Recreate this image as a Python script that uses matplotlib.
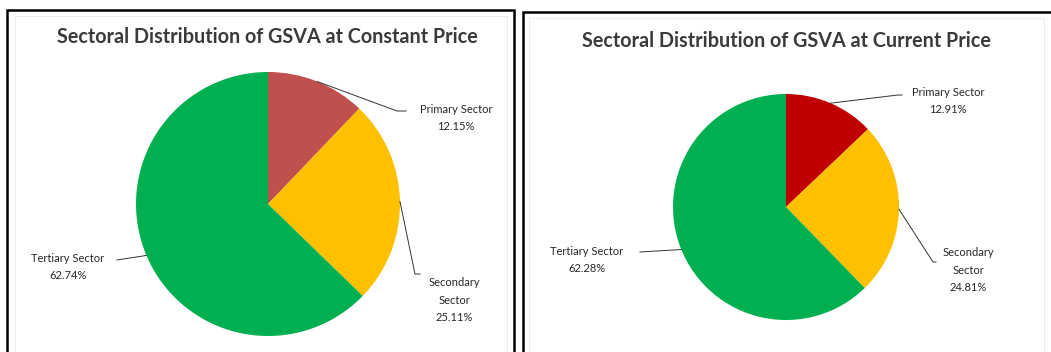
import numpy as np
import matplotlib.pyplot as plt
from matplotlib.patches import Rectangle

plt.rcParams['font.family'] = ['Lato', 'DejaVu Sans']

# GSVA shares (%) by sector
sectors = ["Primary Sector", "Secondary Sector", "Tertiary Sector"]
constant_share = [12.15, 25.11, 62.74]
current_share = [12.91, 24.81, 62.28]
constant_colors = ["#C0504D", "#FFC000", "#00B050"]
current_colors = ["#C00000", "#FFC000", "#00B050"]
label_names = ["Primary Sector", "Secondary\nSector", "Tertiary Sector"]

W, H = 1051, 352
fig = plt.figure(figsize=(W / 100, H / 100), dpi=100)
ax = fig.add_axes([0, 0, 1, 1])

# two chart panels, pixel coordinates with y pointing down
panels = [
    dict(title="Sectoral Distribution of GSVA at Constant Price",
         values=constant_share, colors=constant_colors,
         center=(268, 204), radius=132, title_xy=(267, 37),
         frame=(7, 10, 507, 360), inner=(15, 16, 492, 360),
         text_xy=[(456, 118), (454, 300), (68, 267)],
         elbows=[[(397, 111), (406, 111)], [(415, 274), (420, 274)], [(117, 260)]]),
    dict(title="Sectoral Distribution of GSVA at Current Price",
         values=current_share, colors=current_colors,
         center=(786, 207), radius=113, title_xy=(786, 41),
         frame=(523, 12, 600, 360), inner=(529, 18, 515, 360),
         text_xy=[(948, 101), (968, 270), (587, 260)],
         elbows=[[(898, 95), (902, 95)], [(933, 262), (936, 262)], [(640, 252)]]),
]

for p in panels:
    x0, y0, w, h = p["frame"]
    ax.add_patch(Rectangle((x0, y0), w, h, facecolor="white",
                           edgecolor="black", lw=1.8, zorder=0))
    x0, y0, w, h = p["inner"]
    ax.add_patch(Rectangle((x0, y0), w, h, facecolor="none",
                           edgecolor="#EDEDED", lw=0.7, zorder=0.5))

    # y axis is inverted, so startangle 270 counterclockwise runs clockwise from 12 o'clock
    ax.pie(p["values"], colors=p["colors"], startangle=270, counterclock=True,
           center=p["center"], radius=p["radius"], frame=True,
           wedgeprops=dict(linewidth=0))

    ax.text(p["title_xy"][0], p["title_xy"][1], p["title"], ha="center",
            va="center", fontsize=14.2, fontweight="bold", color="#3A3A3A")

    cx, cy = p["center"]
    r = p["radius"]
    cum = np.cumsum([0] + list(p["values"]))
    for i, v in enumerate(p["values"]):
        mid = np.deg2rad(270 + (cum[i] + v / 2) * 3.6)
        ax_pt = (cx + r * np.cos(mid), cy + r * np.sin(mid))
        pts = [ax_pt] + p["elbows"][i]
        ax.plot([q[0] for q in pts], [q[1] for q in pts], color="#333333",
                lw=0.7, zorder=3)
        tx, ty = p["text_xy"][i]
        ax.text(tx, ty, f"{label_names[i]}\n{v:.2f}%", ha="center", va="center",
                fontsize=8, color="#262626", linespacing=1.75)

ax.set_aspect("equal")
ax.set_xlim(0, W)
ax.set_ylim(H, 0)
ax.axis("off")

fig.savefig("out.png", dpi=100, facecolor="white")
